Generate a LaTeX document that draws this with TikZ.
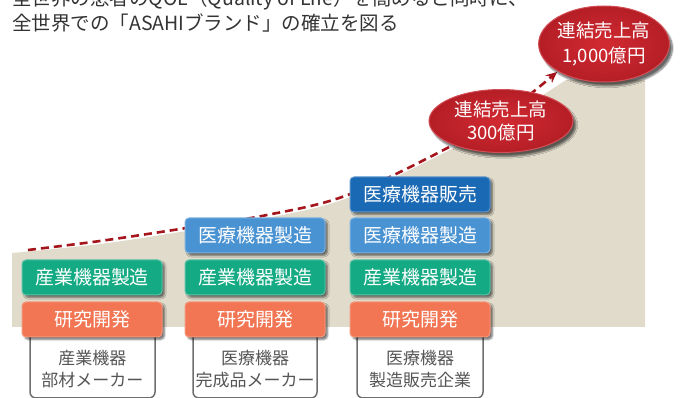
\documentclass[tikz,border=0pt]{standalone}
\usepackage{fontspec}
\newfontfamily\jpf{Noto Sans CJK JP}
\usetikzlibrary{shapes.geometric,shadows.blur,arrows.meta}
\definecolor{beige}{HTML}{E0DBCB}
\definecolor{trendred}{HTML}{A5151C}
\definecolor{ellred}{HTML}{C8222A}
\definecolor{ellin}{HTML}{D22A32}
\definecolor{ellout}{HTML}{B51E26}
\definecolor{rdcol}{HTML}{F27653}
\definecolor{indcol}{HTML}{14AA83}
\definecolor{medcol}{HTML}{4A93D3}
\definecolor{salcol}{HTML}{1A69B4}
\definecolor{titlecol}{HTML}{333333}
\definecolor{labcol}{HTML}{555555}
\definecolor{brcol}{HTML}{6E6E6E}
\begin{document}
\begin{tikzpicture}[x=1pt,y=-1pt,
  stagebox/.style={rectangle, rounded corners=4pt, minimum width=140pt, minimum height=35pt,
    inner sep=0pt, text=white, font=\jpf\fontsize{19}{21}\selectfont,
    blur shadow={shadow xshift=2.5pt, shadow yshift=-2.5pt, shadow blur steps=6, shadow opacity=55}},
  rdbox/.style={stagebox, fill=rdcol, draw=rdcol!75!white, line width=1pt},
  indbox/.style={stagebox, fill=indcol, draw=indcol!70!white, line width=1pt},
  medbox/.style={stagebox, fill=medcol, draw=medcol!70!white, line width=1pt},
  salbox/.style={stagebox, fill=salcol, draw=salcol!70!white, line width=1pt},
  salesell/.style={ellipse, inner sep=0pt, shading=radial, inner color=ellin, outer color=ellout,
    draw=ellred!80!white, line width=1pt, text=white, align=center,
    blur shadow={shadow xshift=3pt, shadow yshift=-4pt, shadow blur steps=8, shadow opacity=60}},
  catlabel/.style={text=labcol, align=center, font=\jpf\fontsize{17}{22}\selectfont, inner sep=0pt},
  bracket/.style={draw=brcol, line width=1.5pt, rounded corners=6pt},
  trend/.style={draw=trendred, line width=2.6pt, dash pattern=on 8pt off 5pt},
  titletext/.style={text=titlecol, font=\jpf\fontsize{19.5}{24}\selectfont, anchor=base west, inner sep=0pt}
]
\useasboundingbox (0,0) rectangle (689,398);

% background area
\fill[beige] (12,253) -- plot[smooth, tension=0.6] coordinates {(12,253) (100,244) (180,232) (267,218) (345,199) (430,160) (500,122) (566,80)} -- (645,80) -- (645,327) -- (12,327) -- cycle;

% title
\node[titletext] (t1) at (12,5.5) {全世界の患者のQOL（Quality of Life）を高めると同時に、};
\node[titletext] (t2) at (12,30.5) {全世界での「ASAHIブランド」の確立を図る};

% trend curve
\coordinate (p0) at (28,250);
\coordinate (p1) at (100,241);
\coordinate (p2) at (180,229);
\coordinate (p3) at (267,215);
\coordinate (p4) at (345,196);
\coordinate (p5) at (430,157);
\coordinate (p6) at (500,117);
\coordinate (p7) at (557,72);
\draw[trend, -{Stealth[length=11pt,width=10pt]}] plot[smooth, tension=0.6] coordinates {(p0) (p1) (p2) (p3) (p4) (p5) (p6) (p7)};

% sales ellipses
\node[salesell, minimum width=144pt, minimum height=63pt, font=\jpf\fontsize{18.5}{23}\selectfont] (s300) at (501,121) {連結売上高\\300億円};
\node[salesell, minimum width=126pt, minimum height=76pt, font=\jpf\fontsize{18.5}{25}\selectfont] (s1000) at (604,44) {連結売上高\\1,000億円};

% brackets
\draw[bracket] (30,337) -- (30,398) -- (155,398) -- (155,337);
\draw[bracket] (193,337) -- (193,398) -- (317,398) -- (317,337);
\draw[bracket] (357,337) -- (357,398) -- (483,398) -- (483,337);

% column 1
\node[rdbox] (a1) at (92,319.5) {研究開発};
\node[indbox] (a2) at (92,277.5) {産業機器製造};
% column 2
\node[rdbox] (b1) at (255,319.5) {研究開発};
\node[indbox] (b2) at (255,277.5) {産業機器製造};
\node[medbox] (b3) at (255,235.5) {医療機器製造};
% column 3
\node[rdbox] (c1) at (420,319.5) {研究開発};
\node[indbox] (c2) at (420,277.5) {産業機器製造};
\node[medbox] (c3) at (420,235.5) {医療機器製造};
\node[salbox] (c4) at (420,194.5) {医療機器販売};

% category labels
\node[catlabel] (l1) at (92.5,369) {産業機器\\部材メーカー};
\node[catlabel] (l2) at (255,369) {医療機器\\完成品メーカー};
\node[catlabel] (l3) at (420,369) {医療機器\\製造販売企業};
\end{tikzpicture}
\end{document}
